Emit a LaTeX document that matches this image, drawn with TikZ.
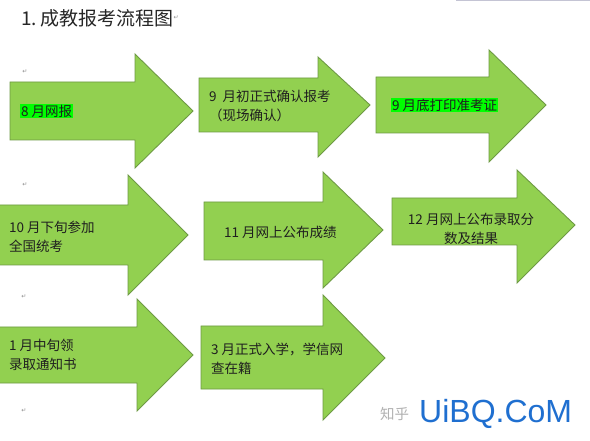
\documentclass[tikz,border=0pt]{standalone}
\usepackage{fontspec}
\setmainfont{Noto Sans CJK SC}
\newfontfamily\symfont{DejaVu Sans}
\newfontfamily\wmfont{Liberation Sans}
\definecolor{arrowfill}{HTML}{92D050}
\definecolor{arrowline}{HTML}{6E9A44}
\definecolor{hlgreen}{HTML}{00FF00}
\definecolor{wmblue}{HTML}{1F6FD0}
\begin{document}
\begin{tikzpicture}[x=1pt,y=-1pt,
  bigarrow/.style={fill=arrowfill,draw=arrowline,line width=0.9pt,line join=miter},
  lbl/.style={font=\fontsize{13.5}{19}\selectfont,text=black!88,anchor=west,inner sep=0pt,align=left},
  hl/.style={lbl,fill=hlgreen,inner sep=1pt},
  retmark/.style={font=\symfont\fontsize{6}{6}\selectfont,text=black!45,inner sep=0pt}]
\useasboundingbox (0,0) rectangle (590,441);
\fill[white] (0,0) rectangle (590,441);
\draw[line width=1.2pt,draw=blue!15!gray!40] (456,0.5) -- (590,0.5);
% arrow macro via path
\newcommand{\arw}[8]{\draw[bigarrow] (#1,#2) -- (#4,#2) -- (#4,#5) -- (#7,#8) -- (#4,#6) -- (#4,#3) -- (#1,#3) -- cycle;}
% row 1
\arw{10}{82}{140}{135}{54}{168}{193}{111}
\arw{199}{78}{132}{318}{57}{157}{370}{105}
\arw{376}{77}{133}{489}{50}{162}{546}{105}
% row 2
\arw{-2}{205}{265}{128}{175}{295}{188}{235}
\arw{204}{202}{260}{323}{172}{288}{383}{230}
\arw{392}{198}{245}{517}{170}{283}{575}{225}
% row 3
\arw{-2}{327}{383}{137}{299}{411}{193}{355}
\arw{201}{326}{389}{323}{295}{420}{385}{358}
% title
\node[anchor=west,inner sep=0pt,font=\fontsize{19}{20}\selectfont,text=black!85] (title) at (21,18) {1.\,成教报考流程图};
\node[retmark,anchor=west] (rt) at (title.east) {↵};
% labels
\node[hl] (t1) at (20,111) {8 月网报};
\node[lbl] (t2) at (209,106) {9\ \ 月初正式确认报考\\（现场确认）};
\node[hl] (t3) at (391,105) {9 月底打印准考证};
\node[lbl] (t4) at (9,237) {10 月下旬参加\\全国统考};
\node[lbl] (t5) at (224,232) {11 月网上公布成绩};
\node[lbl,align=center,anchor=center] (t6) at (471,229) {12 月网上公布录取分\\数及结果};
\node[lbl] (t7) at (9,355) {1 月中旬领\\录取通知书};
\node[lbl] (t8) at (211,359) {3 月正式入学，学信网\\查在籍};
% paragraph marks
\node[retmark] (r1) at (25,72) {↵};
\node[retmark] (r2) at (25,185) {↵};
\node[retmark] (r3) at (24,297) {↵};
\node[retmark] (r4) at (24,411) {↵};
% watermark
\node[anchor=west,inner sep=0pt,font=\fontsize{14.5}{14.5}\selectfont,text=black!30] (wz) at (380,414) {知乎};
\node[anchor=west,inner sep=0pt,font=\wmfont\fontsize{32}{32}\selectfont,text=wmblue] (wm) at (419,414) {UiBQ.CoM};
\end{tikzpicture}
\end{document}
